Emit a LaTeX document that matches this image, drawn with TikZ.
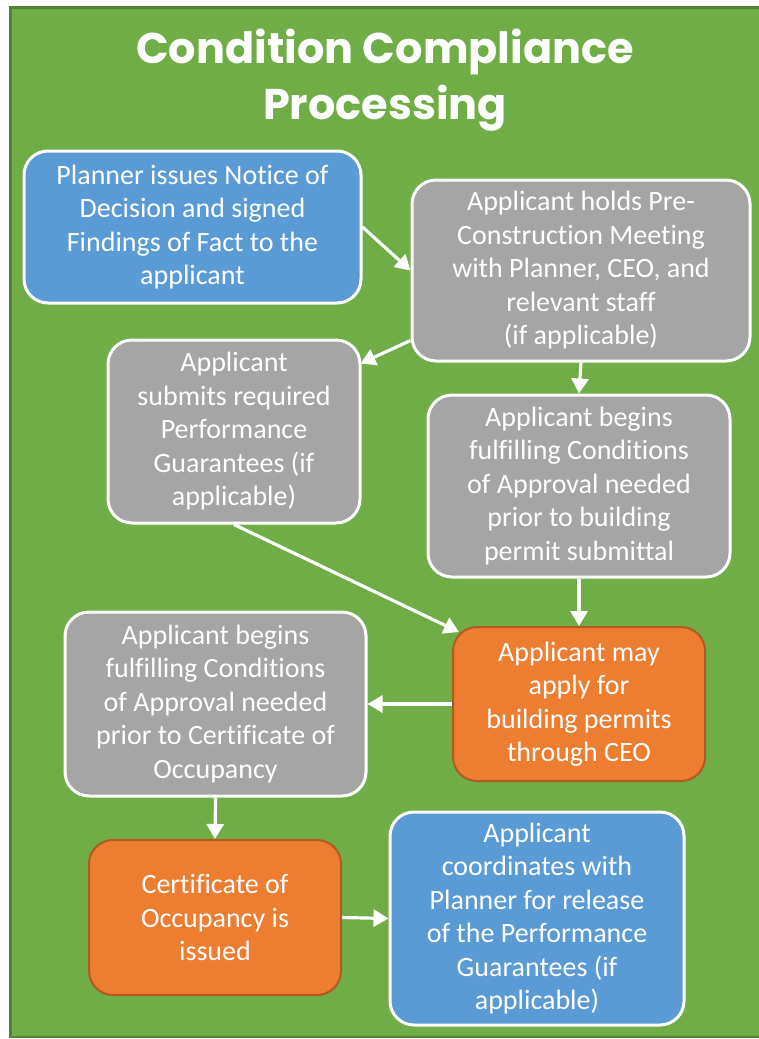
\documentclass[tikz,border=0pt]{standalone}
\usepackage{fontspec}
\setmainfont{Carlito}[Ligatures=NoCommon]
\newfontfamily\titlefont{Poppins}
\usetikzlibrary{calc,arrows.meta}
\definecolor{bggreen}{HTML}{70AD47}
\definecolor{greenedge}{HTML}{548235}
\definecolor{boxblue}{HTML}{5B9BD5}
\definecolor{boxgray}{HTML}{A5A5A5}
\definecolor{boxorange}{HTML}{ED7D31}
\definecolor{orangeedge}{HTML}{AE5A21}
\begin{document}
\begin{tikzpicture}[x=1pt,y=-1pt,
  box/.style={rounded corners=24pt, line width=3pt, draw=white, text=white, align=center,
    font=\fontsize{28}{33.5}\selectfont, inner sep=0pt},
  bluebox/.style={box, fill=boxblue},
  graybox/.style={box, fill=boxgray},
  orangebox/.style={box, fill=boxorange, draw=orangeedge, line width=2pt},
  conn/.style={draw=white, line width=3.2pt, -{Triangle[length=15pt,width=17pt]}}]
\useasboundingbox (0,0) rectangle (759,1039);
\clip (0,0) rectangle (759,1039);
\fill[white] (0,0) rectangle (759,1039);
\filldraw[fill=bggreen, draw=greenedge, line width=2.5pt] (10.5,7.5) rectangle (775,1037);
\node[text=white, align=center, font=\titlefont\bfseries\fontsize{43}{56}\selectfont] (title) at (385,80) {Condition Compliance\\Processing};
\node[bluebox, minimum width=337pt, minimum height=152pt] (b1) at (192.5,227)
  {Planner issues Notice of\\Decision and signed\\Findings of Fact to the\\applicant};
\node[graybox, minimum width=338pt, minimum height=181pt] (b2) at (581,270.5)
  {Applicant holds Pre-\\Construction Meeting\\with Planner, CEO, and\\relevant staff\\(if applicable)};
\node[graybox, minimum width=252pt, minimum height=183pt] (b3) at (234,431.5)
  {Applicant\\submits required\\Performance\\Guarantees (if\\applicable)};
\node[graybox, minimum width=302pt, minimum height=182pt] (b4) at (579,486)
  {Applicant begins\\fulfilling Conditions\\of Approval needed\\prior to building\\permit submittal};
\node[orangebox, minimum width=252pt, minimum height=154pt] (b5) at (579,704)
  {Applicant may\\apply for\\building permits\\through CEO};
\node[graybox, minimum width=301pt, minimum height=184pt] (b6) at (215.5,704)
  {Applicant begins\\fulfilling Conditions\\of Approval needed\\prior to Certificate of\\Occupancy};
\node[orangebox, minimum width=252pt, minimum height=155pt] (b7) at (215,917.5)
  {Certificate of\\Occupancy is\\issued};
\node[bluebox, minimum width=294pt, minimum height=213pt] (b8) at (537,918.5)
  {Applicant\\coordinates with\\Planner for release\\of the Performance\\Guarantees (if\\applicable)};
\draw[conn] (b1.east) -- (b2.west);
\draw[conn] ($(b2.west)+(0,70)$) -- ($(b3.north east)+(-1,25)$);
\draw[conn] (b2.south) -- (b4.north);
\draw[conn] (b3.south) -- ($(b5.north west)+(7,6)$);
\draw[conn] (b4.south) -- (b5.north);
\draw[conn] (b5.west) -- (b6.east);
\draw[conn] (b6.south) -- (b7.north);
\draw[conn] (b7.east) -- (b8.west);
\end{tikzpicture}
\end{document}
